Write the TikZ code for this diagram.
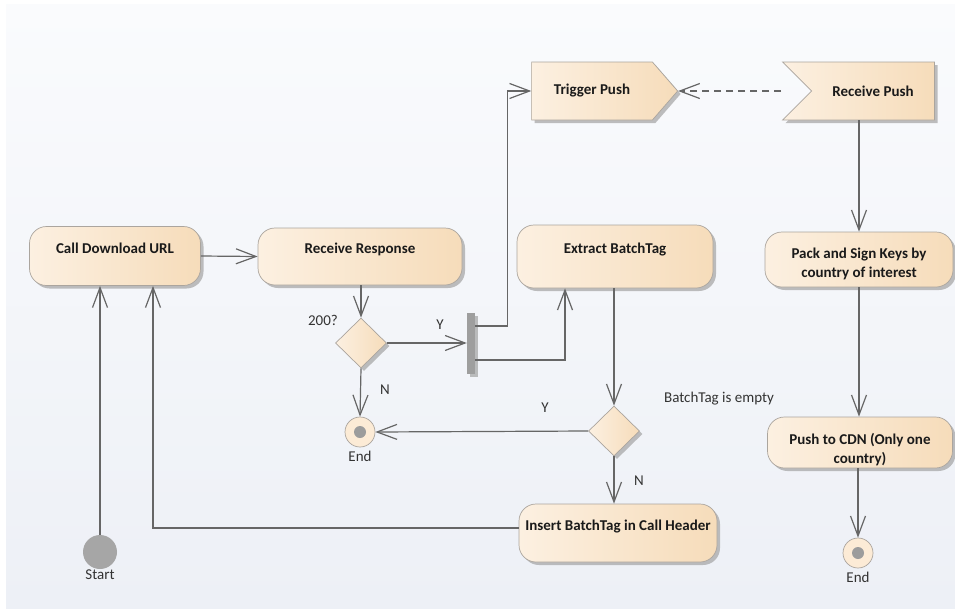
\documentclass[tikz,border=0pt]{standalone}
\usepackage{fontspec}
\setmainfont{Carlito}
\usetikzlibrary{arrows.meta,shapes.geometric,shapes.symbols,shadows,calc}

\definecolor{bgtop}{HTML}{FAFBFD}
\definecolor{bgbot}{HTML}{EDF0F6}
\definecolor{fillL}{HTML}{FCF0E1}
\definecolor{fillR}{HTML}{F6DCBA}
\definecolor{edgecol}{HTML}{ABA59E}
\definecolor{wire}{HTML}{666666}
\definecolor{ink}{HTML}{1A1A1A}
\definecolor{labelink}{HTML}{333333}
\definecolor{shadecol}{HTML}{A3A3A3}
\definecolor{endfill}{HTML}{FCEBD6}
\definecolor{dotcol}{HTML}{9C9C9C}
\definecolor{startcol}{HTML}{A6A6A6}
\definecolor{barcol}{HTML}{9E9E9E}

\tikzset{
  basefont/.style={font=\fontsize{15}{19}\selectfont},
  shadowed/.style={drop shadow={shadow xshift=3pt, shadow yshift=-3pt, fill=shadecol, opacity=0.7}},
  body/.style={draw=edgecol, line width=0.7pt, left color=fillL, right color=fillR, shadowed},
  action/.style={body, rectangle, rounded corners=17pt, inner sep=0pt, align=center,
    text=ink, font=\bfseries\fontsize{15}{19}\selectfont},
  toptext/.style={text height=11pt, text depth=17pt},
  choice/.style={body, diamond, minimum width=51pt, minimum height=50pt, inner sep=0pt},
  sendsig/.style={body, signal, signal to=east, signal pointer angle=98, inner sep=0pt,
    text=ink, font=\bfseries\fontsize{15}{19}\selectfont},
  recvsig/.style={body, signal, signal from=west, signal to=nowhere, signal pointer angle=90, inner sep=0pt,
    text=ink, font=\bfseries\fontsize{15}{19}\selectfont},
  finalnode/.style={circle, draw=edgecol, line width=0.7pt, fill=endfill, minimum size=30pt, inner sep=0pt,
    path picture={\fill[dotcol] (path picture bounding box.center) circle (6pt);}},
  initnode/.style={circle, fill=startcol, minimum size=34pt, inner sep=0pt},
  forkbar/.style={rectangle, fill=barcol, minimum width=8pt, minimum height=61pt, inner sep=0pt, shadowed},
  lbl/.style={basefont, text=labelink, inner sep=0pt},
  flow/.style={draw=wire, line width=1.2pt, -{Straight Barb[length=20pt,width=15pt]}},
  signalflow/.style={flow, dashed, dash pattern=on 7pt off 5pt}
}

\begin{document}
\begin{tikzpicture}[x=1pt,y=-1pt]
  % canvas
  \fill[white] (0,0) rectangle (955,608);
  \shade[top color=bgtop, bottom color=bgbot] (6,4) rectangle (955,608);
  \useasboundingbox (0,0) rectangle (955,608);

  % actions
  \node[action, toptext, minimum width=171pt, minimum height=59pt] (call) at (115,256) {Call Download URL};
  \node[action, toptext, minimum width=204pt, minimum height=57pt] (recv) at (360,256.5) {Receive Response};
  \node[action, toptext, minimum width=196pt, minimum height=63pt] (extract) at (615,256.5) {Extract BatchTag};
  \node[action, minimum width=188pt, minimum height=55pt] (pack) at (859,259.5)
    {\rule{0pt}{19pt}Pack and Sign Keys by\\country of interest};
  \node[action, minimum width=185pt, minimum height=51pt] (cdn) at (860,442.5)
    {\rule{0pt}{25pt}Push to CDN (Only one\\country)};
  \node[action, toptext, minimum width=198pt, minimum height=58pt] (insert) at (618,533) {Insert BatchTag in Call Header};

  % signals
  \node[sendsig, minimum width=146pt, minimum height=58pt] (trigger) at (592,91) {Trigger Push};
  \node[recvsig, minimum width=152pt, minimum height=58pt] (rpush) at (873,91) {Receive Push};
  \coordinate (rpin) at (781,91);

  % decisions, fork, initial and final nodes
  \node[choice] (d1) at (361,343) {};
  \node[choice] (d2) at (614,431) {};
  \node[forkbar] (fork) at (471,343) {};
  \node[initnode] (start) at (100,552) {};
  \node[finalnode] (end1) at (360,432) {};
  \node[finalnode] (end2) at (858,553) {};

  % labels
  \node[lbl] at (323,320) {200?};
  \node[lbl] at (440,325) {Y};
  \node[lbl] at (385,390) {N};
  \node[lbl] at (545,408) {Y};
  \node[lbl] at (719,399) {BatchTag is empty};
  \node[lbl] at (639,481) {N};
  \node[lbl] at (360,456) {End};
  \node[lbl] at (858,577) {End};
  \node[lbl] at (100,575) {Start};

  % flows
  \draw[flow] (start.north) -- (start.north |- call.south);
  \draw[flow] ([yshift=5pt]insert.west) -| ([xshift=38pt]call.south);
  \draw[flow] (call.east) -- (recv.west);
  \draw[flow] (recv.south -| d1.north) -- (d1.north);
  \draw[flow] (d1.east) -- (fork.west);
  \draw[flow] ([yshift=17pt]fork.east) -| ([xshift=-24pt]trigger.west) -- (trigger.west);
  \draw[flow] ([yshift=-17pt]fork.east) -| ([xshift=-50pt]extract.south);
  \draw[signalflow] (rpin) -- (trigger.east);
  \draw[flow] (rpush.south -| pack.north) -- (pack.north);
  \draw[flow] (extract.south -| d2.north) -- (d2.north);
  \draw[flow] (d2.west) -- (end1.east);
  \draw[flow] (d1.south) -- (end1.north);
  \draw[flow] (d2.south) -- (d2.south |- insert.north);
  \draw[flow] (pack.south) -- (pack.south |- cdn.north);
  \draw[flow] (cdn.south -| end2.north) -- (end2.north);
\end{tikzpicture}
\end{document}
